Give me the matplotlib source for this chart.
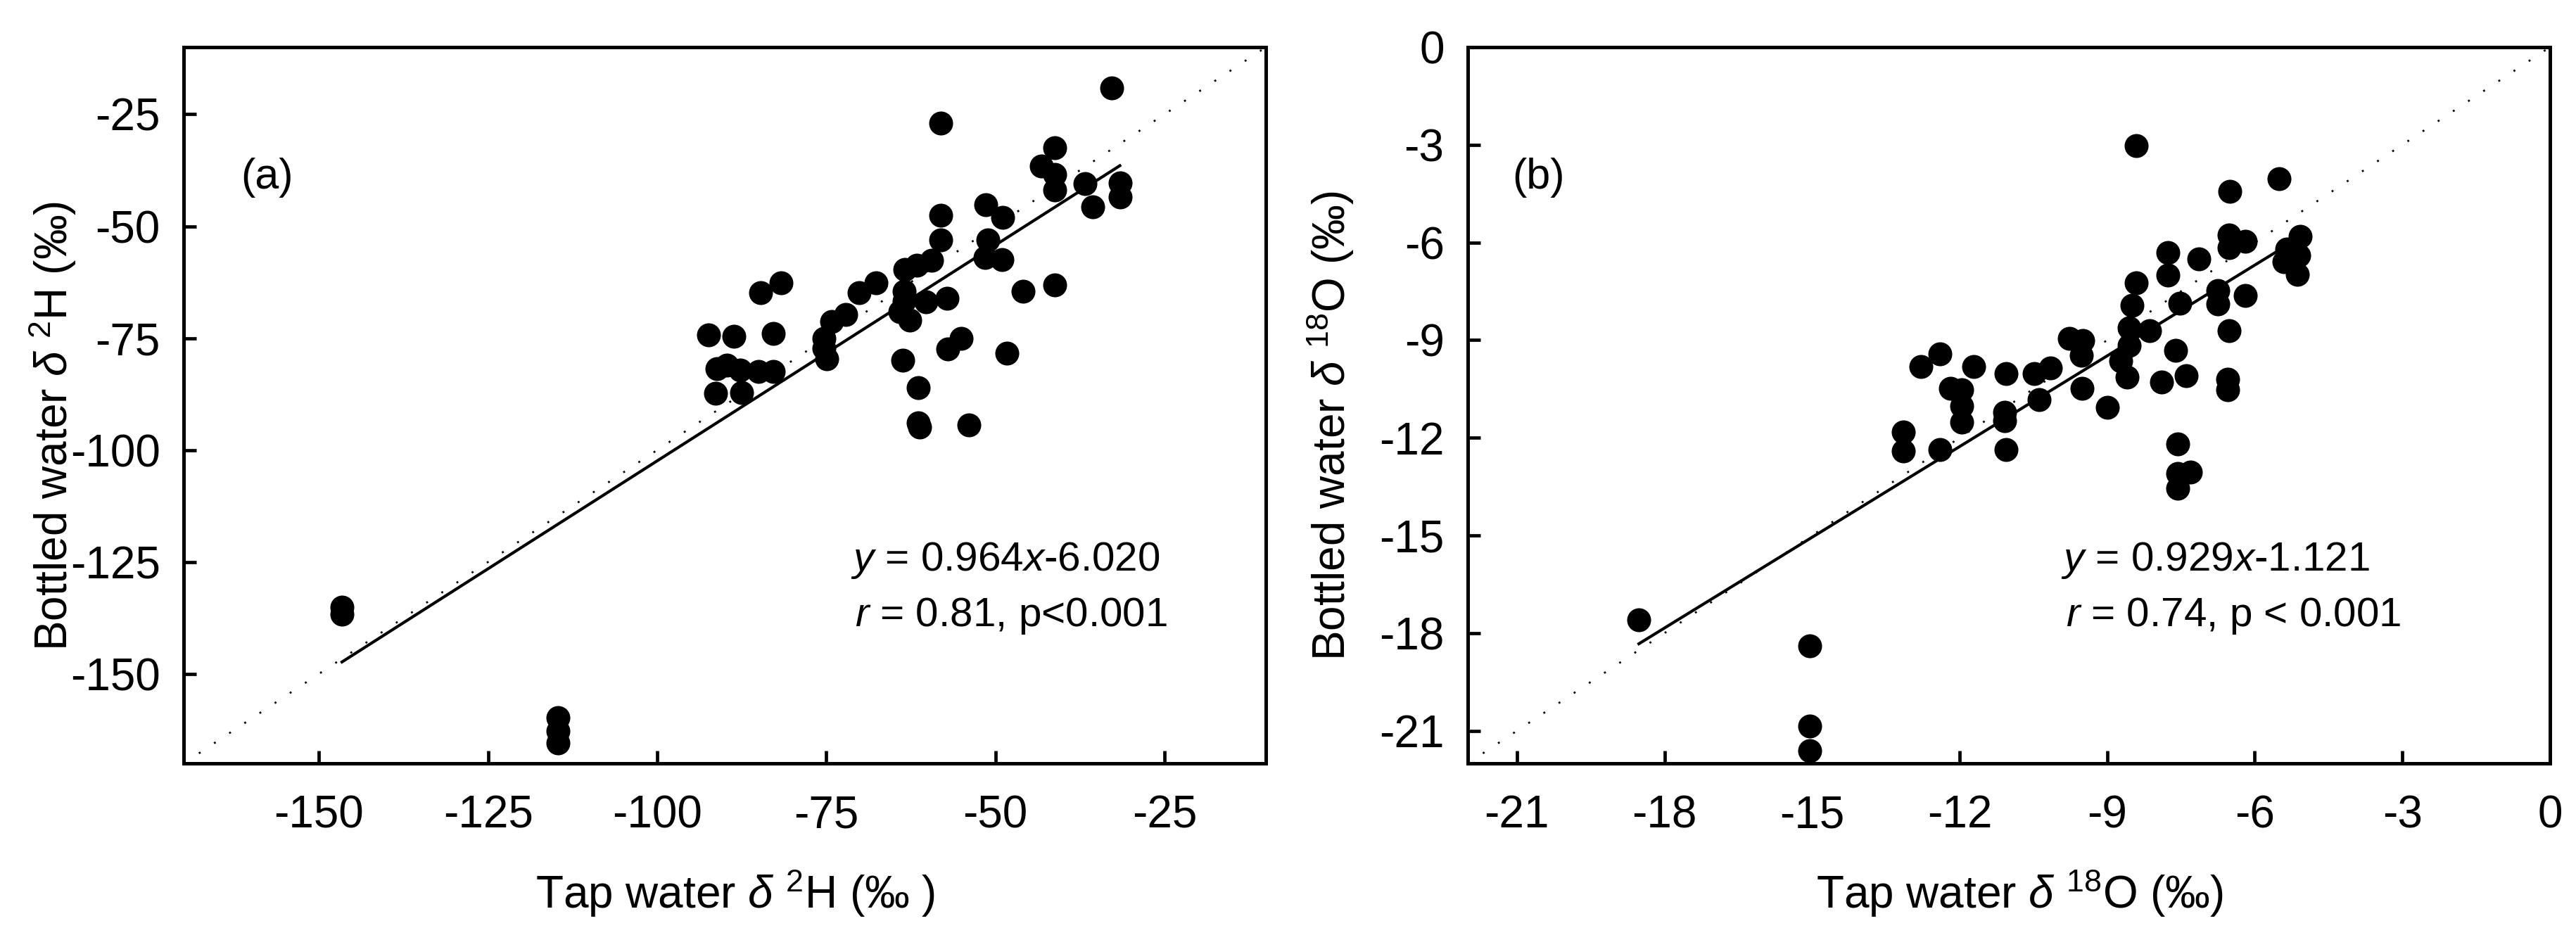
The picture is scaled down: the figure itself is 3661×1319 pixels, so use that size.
import matplotlib
matplotlib.use('Agg')
import matplotlib.pyplot as plt
import numpy as np

plt.rcParams['font.family'] = ['Liberation Sans', 'DejaVu Sans']
plt.rcParams['mathtext.fontset'] = 'custom'
plt.rcParams['mathtext.rm'] = 'Liberation Sans'
plt.rcParams['mathtext.it'] = 'Liberation Sans:italic'
plt.rcParams['axes.unicode_minus'] = False

# (a) delta 2H, tap vs bottled
tap_h = [-146.6, -146.6, -114.7, -114.7, -114.7,
         -92.4, -88.7, -82.8, -81.7, -84.7,
         -91.2, -89.7, -87.7, -85.0, -82.8, -91.4, -87.5,
         -75.3, -75.3, -74.9, -74.2, -72.1, -70.1, -67.6,
         -63.4, -61.6, -59.4, -63.5, -63.5, -60.3, -57.1, -62.7, -64.1,
         -58.1, -58.1, -58.1,
         -63.7, -61.4, -61.4, -61.2, -53.9, -57.0, -55.1, -48.3, -45.9, -41.2,
         -51.4, -48.9, -51.1, -51.5, -49.0,
         -41.2, -43.2, -41.2, -41.2,
         -36.8, -35.6, -31.6, -31.6, -32.8]
bottled_h = [-135.1, -136.6, -159.8, -162.7, -165.5,
             -74.3, -74.6, -74.0, -62.6, -64.8,
             -81.9, -81.1, -82.2, -82.4, -82.4, -87.3, -87.1,
             -75.1, -77.3, -79.7, -71.3, -69.7, -64.8, -62.6,
             -59.6, -58.8, -57.7, -64.5, -66.7, -66.9, -66.1, -71.0, -69.1,
             -47.6, -53.1, -26.9,
             -80.0, -86.0, -93.9, -94.8, -94.4, -77.5, -75.1, -78.4, -64.5, -63.1,
             -45.2, -48.0, -53.0, -57.0, -57.5,
             -32.4, -36.5, -38.5, -41.9,
             -40.5, -45.7, -40.4, -43.5, -19.1]

# (b) delta 18O, tap vs bottled
tap_o = [-18.52, -15.04, -15.04, -15.04,
         -8.41, -5.51, -6.50, -6.52, -6.19, -6.52,
         -5.07, -5.35, -5.10, -5.40, -5.13,
         -7.76, -7.76, -7.14,
         -8.41, -8.50, -8.55, -8.55, -8.14, -8.59, -8.73,
         -7.52, -6.75, -6.75, -6.19, -6.52,
         -7.61, -7.40, -7.90, -6.55, -6.55,
         -7.56, -7.56, -7.31, -7.56,
         -9.50, -9.77, -9.53, -10.15, -10.48, -11.05, -9.51, -9.00, -10.39,
         -11.09, -11.09, -11.05,
         -12.78, -12.40, -11.72, -12.19, -11.96, -11.96, -11.96,
         -13.14, -13.14, -12.40]
bottled_o = [-17.6, -18.4, -20.85, -21.6,
             -3.03, -4.05, -4.42, -5.77, -5.97, -6.16,
             -5.81, -6.20, -6.40, -6.60, -6.97,
             -6.31, -7.00, -6.51,
             -7.24, -7.93, -8.63, -9.17, -8.70, -10.13, -9.63,
             -7.86, -7.47, -7.89, -7.62, -8.70,
             -9.32, -10.09, -10.29, -10.21, -10.52,
             -12.18, -13.10, -13.06, -13.56,
             -9.01, -8.94, -9.47, -9.86, -10.02, -10.02, -10.48, -11.06, -10.83,
             -11.21, -11.48, -12.37,
             -9.82, -9.43, -9.82, -10.48, -10.52, -11.02, -11.52,
             -11.83, -12.41, -12.37]

panels = [
    dict(x=tap_h, y=bottled_h, lim=(-170, -10), ticks=[-150, -125, -100, -75, -50, -25],
         slope=0.964, icpt=-6.020, tag='(a)', tag_x=0.053,
         xlabel=r'Tap water $\delta$ $^{2}$H (‰ )',
         ylabel=r'Bottled water $\delta$ $^{2}$H (‰)',
         eq=r'$y$ = 0.964$x$-6.020', stat=r'$r$ = 0.81, p<0.001', eq_x=0.616,
         ylab_x=-0.0974),
    dict(x=tap_o, y=bottled_o, lim=(-22, 0), ticks=[-21, -18, -15, -12, -9, -6, -3, 0],
         slope=0.929, icpt=-1.121, tag='(b)', tag_x=0.041,
         xlabel=r'Tap water $\delta$ $^{18}$O (‰)',
         ylabel=r'Bottled water $\delta$ $^{18}$O (‰)',
         eq=r'$y$ = 0.929$x$-1.121', stat=r'$r$ = 0.74, p < 0.001', eq_x=0.5485,
         ylab_x=-0.1036),
]

fig = plt.figure(figsize=(36.62, 13.19), dpi=100)
lefts = [0.0713, 0.5696]
for left, p in zip(lefts, panels):
    ax = fig.add_axes([left, 0.1774, 0.4200, 0.7718])
    x = np.array(p['x'])
    y = np.array(p['y'])
    lo, hi = p['lim']

    # 1:1 line
    ax.plot([lo, hi], [lo, hi], color='black', lw=2, linestyle=(0, (1, 8.3)))
    # regression line over the data range
    xr = np.array([x.min(), x.max()])
    ax.plot(xr, p['slope'] * xr + p['icpt'], color='black', lw=3)
    ax.plot(x, y, 'o', color='black', markersize=24.5, markeredgewidth=0)

    ax.set_xlim(lo, hi)
    ax.set_ylim(lo, hi)
    ax.set_xticks(p['ticks'])
    ax.set_yticks(p['ticks'])
    ax.tick_params(direction='in', length=13, width=3.4, labelsize=46)
    ax.tick_params(axis='x', pad=32)
    ax.tick_params(axis='y', pad=24)
    for s in ax.spines.values():
        s.set_linewidth(3.6)

    ax.set_xlabel(p['xlabel'], fontsize=46)
    ax.set_ylabel(p['ylabel'], fontsize=46)
    ax.xaxis.set_label_coords(0.51, -0.145)
    ax.yaxis.set_label_coords(p['ylab_x'], 0.471)

    ax.text(p['tag_x'], 0.8026, p['tag'], transform=ax.transAxes, fontsize=44)
    ax.text(p['eq_x'], 0.269, p['eq'], transform=ax.transAxes, fontsize=42)
    ax.text(p['eq_x'] + 0.004, 0.1916, p['stat'], transform=ax.transAxes, fontsize=42)

fig.savefig('out.png', dpi=100)
